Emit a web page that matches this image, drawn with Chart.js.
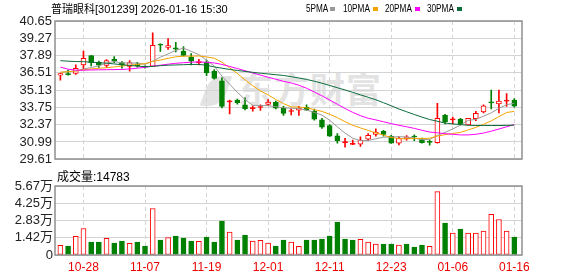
<!DOCTYPE html>
<html><head><meta charset="utf-8">
<script src="https://cdn.jsdelivr.net/npm/chart.js@4/dist/chart.umd.min.js"></script>
<style>
html,body{margin:0;padding:0;background:#fff;}
#wrap{position:relative;width:578px;height:276px;overflow:hidden;font-family:"Liberation Sans","Noto Sans CJK SC",sans-serif;}
canvas{position:absolute;left:0;}
.t{position:absolute;white-space:nowrap;color:#000;line-height:1;}
.lg{position:absolute;top:4px;font-size:10px;transform:scaleX(0.82);transform-origin:left top;color:#000;white-space:nowrap;line-height:1;}
.sq{position:absolute;top:7px;width:5px;height:4px;}
#wm{position:absolute;left:238px;top:70px;font-size:35px;font-weight:bold;color:#e3e3e3;font-family:"Noto Sans CJK SC",sans-serif;letter-spacing:1px;line-height:1;}
#wmlogo{position:absolute;left:205px;top:76px;width:22px;height:30px;background:#e3e3e3;border-radius:12px 2px 12px 2px;transform:skewX(-20deg);}
</style></head>
<body><div id="wrap">
<div id="wmlogo"></div>
<div id="wm">东方财富</div>
<canvas id="c1" width="578" height="170" style="top:0;width:578px;height:170px"></canvas>
<canvas id="c2" width="578" height="106" style="top:170px;width:578px;height:106px"></canvas>
<div class="t" style="left:51px;top:4px;font-size:11px;">普瑞眼科[301239] 2026-01-16 15:30</div>
<div class="lg" style="left:306px">5PMA</div><div class="sq" style="left:330px;background:#999999"></div>
<div class="lg" style="left:343px">10PMA</div><div class="sq" style="left:373px;background:#f4a300"></div>
<div class="lg" style="left:385px">20PMA</div><div class="sq" style="left:415px;background:#ff00ff"></div>
<div class="lg" style="left:427px">30PMA</div><div class="sq" style="left:457px;background:#0b6b3a"></div>
<div class="t" style="left:57px;top:171px;font-size:12px;">成交量:14783</div>
</div>
<script>
const dates = ['10-23','10-24','10-27','10-28','10-29','10-30','10-31','11-03','11-04','11-05','11-06','11-07','11-10','11-11','11-12','11-13','11-14','11-17','11-18','11-19','11-20','11-21','11-24','11-25','11-26','11-27','11-28','12-01','12-02','12-03','12-04','12-05','12-08','12-09','12-10','12-11','12-12','12-15','12-16','12-17','12-18','12-19','12-22','12-23','12-24','12-25','12-26','12-29','12-30','12-31','01-05','01-06','01-07','01-08','01-09','01-12','01-13','01-14','01-15','01-16'];
const tickDates = ['10-28','11-07','11-19','12-01','12-11','12-23','01-06','01-16'];
const opens  = [36.33,36.40,36.46,37.15,37.89,37.35,37.10,37.58,37.33,37.02,37.22,36.99,37.02,38.78,38.53,38.50,38.22,37.76,37.32,37.35,36.64,35.87,34.19,34.34,33.95,33.65,33.74,33.98,34.15,33.69,33.42,33.52,33.75,33.44,32.75,32.29,31.47,30.94,30.80,30.81,31.22,31.58,31.83,31.45,30.89,31.24,31.40,31.19,30.98,30.93,33.11,32.75,32.80,32.35,32.85,33.39,34.15,34.03,34.24,34.34];
const highs  = [36.46,36.72,37.15,38.25,37.89,37.45,37.56,37.81,37.41,37.48,37.35,37.07,39.71,38.83,39.25,38.94,38.60,38.04,37.58,37.53,36.76,36.12,34.34,34.42,34.52,33.88,33.95,34.38,34.26,33.83,33.65,33.83,33.95,33.62,32.88,32.37,31.65,31.27,31.14,31.39,31.65,32.04,31.91,31.52,31.39,31.50,31.55,31.29,31.14,34.08,33.19,32.98,32.88,32.88,33.44,33.95,35.13,35.13,34.85,34.46];
const lows   = [35.92,36.33,36.38,36.82,37.07,36.95,36.95,37.33,36.89,36.64,36.97,36.89,37.02,38.22,38.37,38.17,37.84,37.15,37.15,36.28,36.00,33.70,33.23,34.00,33.54,33.44,33.50,33.88,33.62,33.11,33.14,33.11,33.50,32.73,32.06,31.42,30.89,30.58,30.78,30.63,31.09,31.45,31.45,30.87,30.76,31.14,31.09,30.90,30.73,30.90,32.42,32.42,32.35,32.35,32.68,33.31,33.62,33.31,33.83,33.77];
const closes = [36.44,36.36,36.87,37.66,37.33,37.12,37.48,37.45,37.12,37.33,37.07,36.97,38.71,38.72,38.68,38.40,37.91,37.45,37.34,36.51,36.07,33.83,34.23,34.13,33.65,33.69,33.79,34.18,33.69,33.27,33.46,33.69,33.52,32.80,32.16,31.45,31.09,30.96,30.82,31.14,31.52,31.78,31.58,30.89,31.27,31.39,31.38,30.93,30.96,32.88,32.60,32.79,32.42,32.88,33.27,33.88,34.11,34.26,34.28,33.85];
const ma5  = [36.55,36.60,36.66,36.82,36.93,37.07,37.29,37.41,37.30,37.30,37.29,37.19,37.44,37.76,38.03,38.30,38.48,38.23,37.96,37.52,37.06,36.24,35.60,34.95,34.38,33.91,33.90,33.89,33.80,33.72,33.68,33.66,33.53,33.35,33.13,32.72,32.20,31.69,31.29,31.09,31.10,31.24,31.37,31.38,31.41,31.38,31.30,31.17,31.19,31.51,31.75,32.03,32.33,32.71,32.79,33.05,33.31,33.68,33.96,34.08];
const ma10 = [36.55,36.60,36.66,36.75,36.82,36.87,36.92,36.98,37.05,37.12,37.18,37.24,37.42,37.53,37.67,37.79,37.84,37.84,37.86,37.78,37.68,37.36,36.91,36.46,35.95,35.48,35.07,34.74,34.38,34.05,33.79,33.78,33.71,33.57,33.43,33.20,32.93,32.61,32.32,32.11,31.91,31.72,31.53,31.34,31.25,31.24,31.27,31.27,31.28,31.46,31.57,31.67,31.75,31.95,32.15,32.40,32.67,33.01,33.34,33.43];
const ma20 = [36.97,36.80,36.72,36.72,36.74,36.75,36.76,36.77,36.78,36.82,36.88,36.95,37.05,37.12,37.20,37.27,37.32,37.36,37.38,37.35,37.30,37.18,37.02,36.85,36.68,36.50,36.33,36.16,36.00,35.83,35.70,35.52,35.28,34.98,34.67,34.34,34.00,33.66,33.35,33.09,32.88,32.75,32.60,32.45,32.32,32.20,32.07,31.92,31.78,31.72,31.65,31.60,31.55,31.55,31.60,31.70,31.85,32.02,32.20,32.38];
const ma30 = [37.48,37.44,37.41,37.40,37.36,37.32,37.28,37.22,37.16,37.10,37.05,37.00,37.02,37.08,37.12,37.14,37.16,37.18,37.18,37.12,36.98,36.88,36.78,36.70,36.62,36.55,36.48,36.42,36.36,36.30,36.20,36.10,35.98,35.84,35.68,35.50,35.32,35.14,34.95,34.75,34.56,34.36,34.12,33.88,33.62,33.40,33.18,32.97,32.78,32.64,32.50,32.43,32.37,32.32,32.30,32.30,32.30,32.30,32.31,32.33];
const volumes = [7900,7400,15300,21800,10600,10600,13600,9800,11400,9500,10600,7400,38200,12300,14400,15500,13900,11400,11200,14700,10600,27800,18800,12300,16400,11400,12000,9800,7400,12300,10600,7100,12300,12300,13100,15500,27000,13100,12300,12800,10600,9000,9000,9000,8200,9000,6500,8200,7100,52100,26200,18000,21300,18000,18000,19600,33500,29200,19600,14783];
const volUp = [1,0,1,1,0,0,1,0,0,1,0,0,1,0,1,0,0,0,1,0,0,0,1,0,0,1,1,1,0,0,1,1,0,0,0,0,0,0,0,1,1,1,0,0,1,0,0,0,1,1,0,1,0,1,1,1,1,1,1,0];
const priceTicks = [29.61,30.99,32.37,33.75,35.13,36.51,37.89,39.27,40.65];
const volTicks = [0,14175,28350,42525,56700];
const volTickLabels = ['0','1.42万','2.83万','4.25万','5.67万'];

const RED='#ff0000', GREEN='#008000', GRID='#d4d4d4';
const tickIdx = tickDates.map(d=>dates.indexOf(d));
const up = closes.map((c,i)=>c>=opens[i]);
const bodyFill = closes.map((c,i)=> up[i] ? (Math.abs(c-opens[i])<0.1 ? RED : '#ffffff') : GREEN);
const candleCol = up.map(u=>u?RED:GREEN);
const xy = arr => arr.map((v,i)=>({x:i,y:v}));

const frame = {id:'plotframe', afterDatasetsDraw(chart){
  const ctx = chart.ctx, a = chart.chartArea;
  ctx.save(); ctx.strokeStyle='#8f8f8f'; ctx.lineWidth=1.5; ctx.setLineDash([]);
  ctx.strokeRect(Math.round(a.left), Math.round(a.top), Math.round(a.right-a.left), Math.round(a.bottom-a.top));
  ctx.restore();
}};
const fontY = {family:'"Liberation Sans","Noto Sans CJK SC",sans-serif', size:13};
const xScaleBase = {
  type:'linear', min:-0.7, max:60, offset:false,
  afterBuildTicks: s=>{ s.ticks = tickIdx.map(v=>({value:v})); },
  grid:{color:GRID, drawTicks:false, lineWidth:1, offset:false},
  border:{display:false, dash:[4,3]}
};
const line = (label, data, color, order)=>({type:'line', label, data:xy(data), borderColor:color, borderWidth:1, pointRadius:0, tension:0, fill:false, order});

new Chart(document.getElementById('c1'), {
  type:'bar',
  data:{datasets:[
    line('MA5', ma5, '#999999', 3),
    line('MA10', ma10, '#f4a300', 2),
    line('MA20', ma20, '#ff00ff', 1),
    line('MA30', ma30, '#0b6b3a', 0),
    {type:'bar', label:'body', data:opens.map((o,i)=>({x:i,y:[o,closes[i]]})), backgroundColor:bodyFill, borderColor:candleCol, borderWidth:1, borderSkipped:false, barThickness:5, minBarLength:1, grouped:false, order:4},
    {type:'bar', label:'wick', data:lows.map((l,i)=>({x:i,y:[l,highs[i]]})), backgroundColor:candleCol, borderWidth:0, barThickness:1, grouped:false, order:5}
  ]},
  options:{
    responsive:false, animation:false, devicePixelRatio:1,
    layout:{padding:{left:0,right:56,top:21,bottom:5}},
    plugins:{legend:{display:false}, tooltip:{enabled:false}},
    scales:{
      x:Object.assign({}, xScaleBase, {ticks:{display:false}, afterFit:s=>{s.height=0;}}),
      y:{min:29.61, max:40.65,
         afterBuildTicks: s=>{ s.ticks = priceTicks.map(v=>({value:v})); },
         ticks:{autoSkip:false, callback:v=>v.toFixed(2), font:fontY, color:'#222', padding:3},
         grid:{color:GRID, drawTicks:false}, border:{display:false},
         afterFit:s=>{s.width=55;}}
    }
  },
  plugins:[frame]
});

new Chart(document.getElementById('c2'), {
  type:'bar',
  data:{datasets:[
    {label:'vol', data:xy(volumes), backgroundColor:volUp.map(u=>u?'#ffffff':GREEN), borderColor:volUp.map(u=>u?RED:GREEN), borderWidth:1, borderSkipped:false, barThickness:5, grouped:false}
  ]},
  options:{
    responsive:false, animation:false, devicePixelRatio:1,
    layout:{padding:{left:0,right:56,top:16,bottom:0}},
    plugins:{legend:{display:false}, tooltip:{enabled:false}},
    scales:{
      x:Object.assign({}, xScaleBase, {
        ticks:{display:true, autoSkip:false, maxRotation:0, callback:v=>dates[v], color:'#ee0000', font:{family:'"Liberation Sans",sans-serif', size:12}, padding:5},
        afterFit:s=>{s.height=21;}}),
      y:{min:0, max:56700,
         afterBuildTicks: s=>{ s.ticks = volTicks.map(v=>({value:v})); },
         ticks:{autoSkip:false, callback:(v)=>volTickLabels[volTicks.indexOf(v)], font:fontY, color:'#222', padding:2},
         grid:{color:GRID, drawTicks:false}, border:{display:false},
         afterFit:s=>{s.width=55;}}
    }
  },
  plugins:[frame]
});
</script>
</body></html>
